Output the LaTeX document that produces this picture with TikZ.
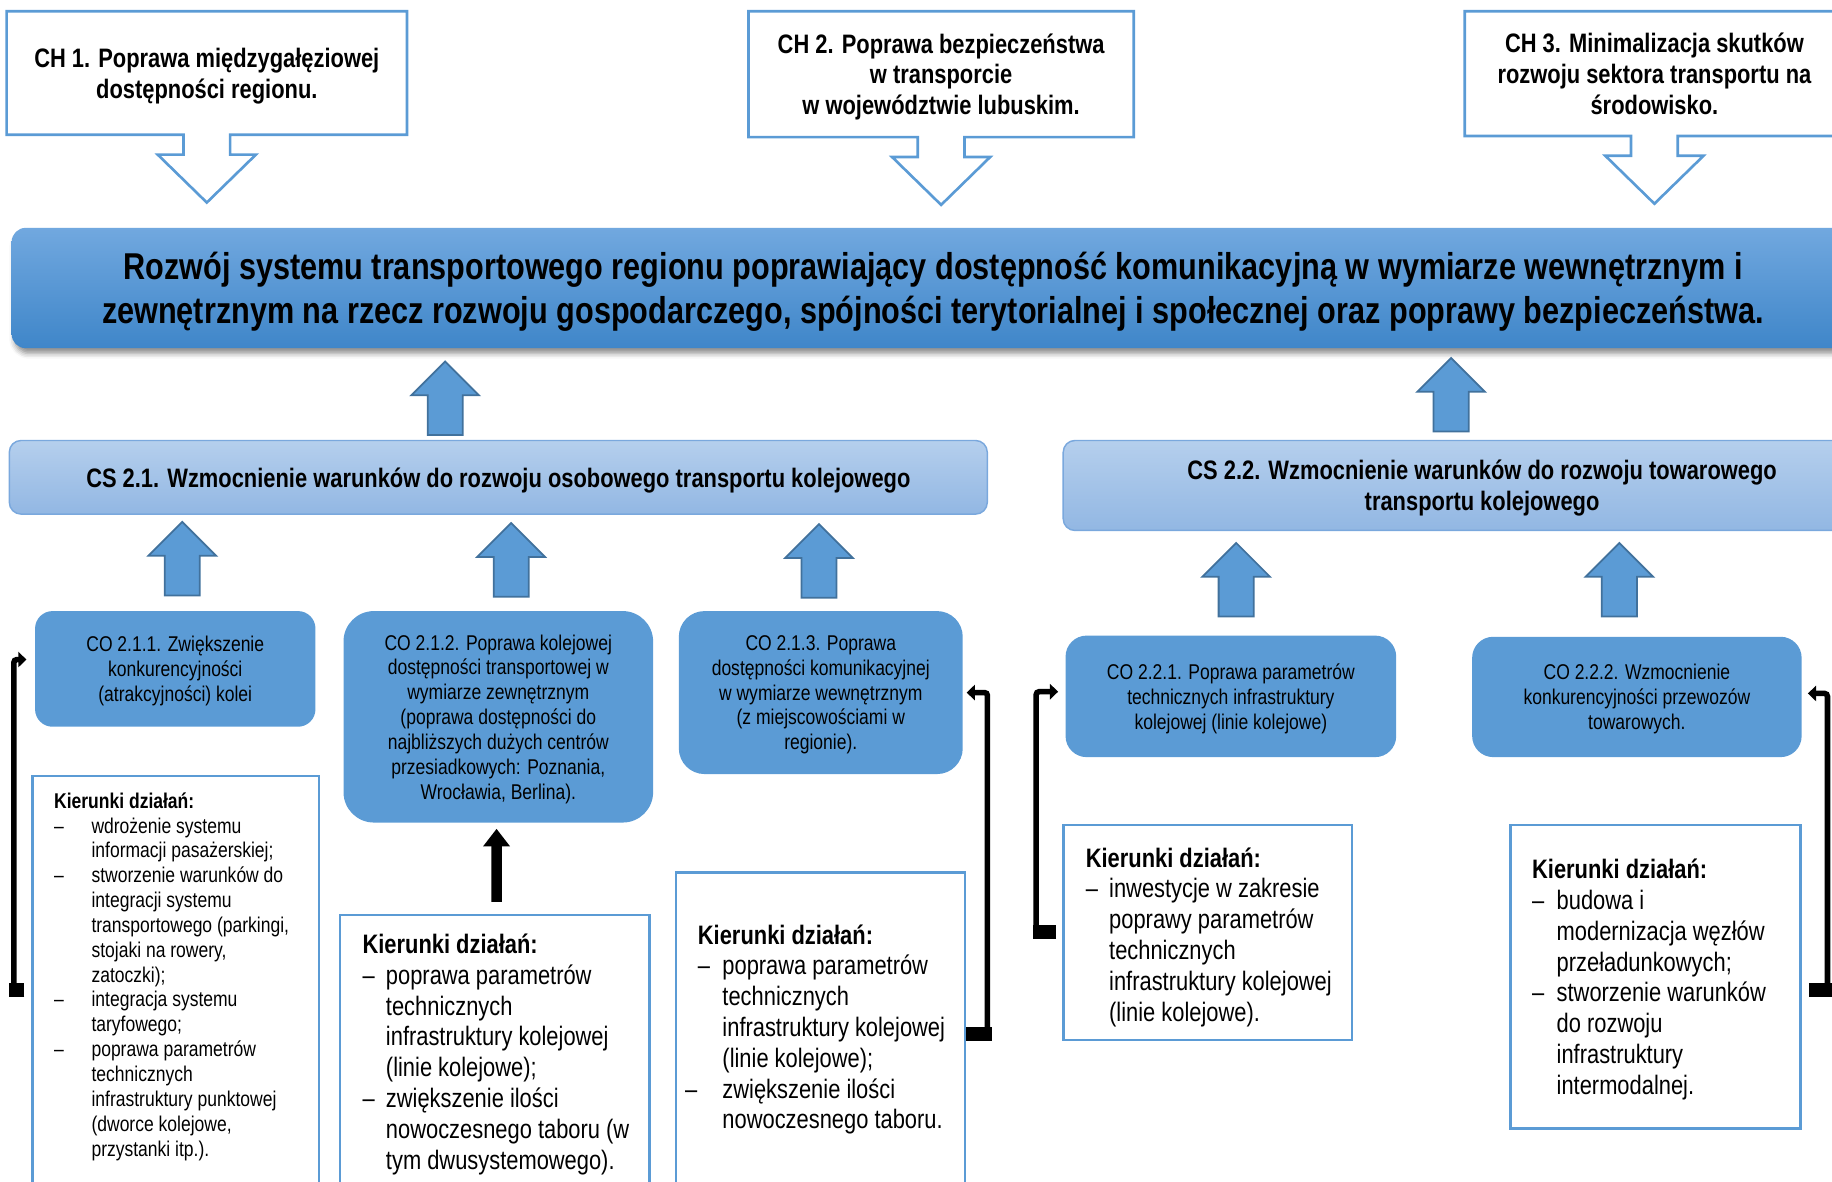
\documentclass[tikz,border=0pt]{standalone}
\usepackage{fontspec}
\setmainfont{Liberation Sans}[FakeStretch=0.82]
\usetikzlibrary{calc,arrows.meta,shadows.blur}

\definecolor{boxblue}{RGB}{91,155,213}
\definecolor{edgeblue}{RGB}{65,113,156}
\definecolor{bannertop}{RGB}{113,168,223}
\definecolor{bannerbot}{RGB}{63,134,201}
\definecolor{cstop}{RGB}{181,207,237}
\definecolor{csbot}{RGB}{146,183,227}
\definecolor{csedge}{RGB}{122,168,221}

% dash and hanging indent in the "Kierunki" lists
\newcommand{\kdash}[1]{\makebox[#1][l]{–}}
\newcommand{\kind}[1]{\hspace*{#1}}
% outline of a goal box with its down arrow
\newcommand{\chpointer}[1]{%
  \draw[chline] (#1.south west) -- (#1.north west) -- (#1.north east) -- (#1.south east)
    -- ($(#1.south)+(20,0)$) -- ++(0,17) -- ++(22,0) -- ($(#1.south)+(0,58)$)
    -- ($(#1.south)+(-42,17)$) -- ++(22,0) -- ++(0,-17) -- cycle;}

\tikzset{
  boxsize/.style 2 args={minimum width=#1*0.2mm, minimum height=#2*0.2mm},
  chtext/.style={align=center, inner sep=0pt, text depth=-0.6pt, font=\fontsize{13}{15}\selectfont\bfseries},
  chline/.style={draw=boxblue, line width=0.45mm},
  banner/.style={rounded corners=2.4mm, top color=bannertop, bottom color=bannerbot,
    align=center, inner sep=0pt, text depth=-0.4pt, font=\fontsize{18.2}{21.6}\selectfont\bfseries,
    blur shadow={shadow xshift=0.5mm, shadow yshift=-0.9mm, shadow blur radius=0.9mm, shadow opacity=45}},
  csbox/.style={rounded corners=2mm, top color=cstop, bottom color=csbot, draw=csedge,
    line width=0.25mm, align=center, inner sep=0pt, text depth=-1.6pt, font=\fontsize{13}{15}\selectfont\bfseries},
  cobox/.style={fill=boxblue, align=center, inner sep=0pt, text depth=-1.2pt, font=\fontsize{10.4}{12.1}\selectfont},
  kbox/.style={draw=boxblue, line width=0.45mm, fill=white},
  ktext/.style={anchor=north west, align=left, inner sep=0pt, font=\fontsize{13}{15}\selectfont},
  conn/.style={line width=0.95mm, -{Triangle[length=1.4mm, width=2.6mm]}, rounded corners=0.5mm},
  stub/.style={line width=2.4mm},
  blackup/.style={line width=1.8mm, -{Triangle[length=3mm, width=4.4mm]}},
  arrowfill/.style={fill=boxblue, draw=edgeblue, line width=0.3mm},
  blockup/.pic={\draw[arrowfill] (-15,0) -- (-15,-34) -- (-29,-34) -- (0,-63) -- (29,-34) -- (15,-34) -- (15,0) -- cycle;}
}

\begin{document}
\begin{tikzpicture}[x=0.2mm, y=-0.2mm]
  \useasboundingbox (0,0) rectangle (1568,1011);
  \clip (0,0) rectangle (1568,1011);

  % Goals (CH)
  \node[chtext, boxsize={342}{105}] (ch1) at (177,62.5) {CH 1. Poprawa międzygałęziowej\\dostępności regionu.};
  \node[chtext, boxsize={329}{107}] (ch2) at (805.5,63.5) {CH 2. Poprawa bezpieczeństwa\\w transporcie\\w województwie lubuskim.};
  \node[chtext, boxsize={324}{106}] (ch3) at (1416,63) {CH 3. Minimalizacja skutków\\rozwoju sektora transportu na\\środowisko.};
  \chpointer{ch1}
  \chpointer{ch2}
  \chpointer{ch3}

  % Main goal
  \node[banner, boxsize={1577}{103}] (goal) at (798.5,246.5)
    {Rozwój systemu transportowego regionu poprawiający dostępność komunikacyjną w wymiarze wewnętrznym i\\
     zewnętrznym na rzecz rozwoju gospodarczego, spójności terytorialnej i społecznej oraz poprawy bezpieczeństwa.};

  % Strategic goals (CS)
  \node[csbox, boxsize={837}{63}] (cs21) at (426.5,408.5) {CS 2.1. Wzmocnienie warunków do rozwoju osobowego transportu kolejowego};
  \node[csbox, boxsize={717}{77}] (cs22) at (1268.5,415.5) {CS 2.2. Wzmocnienie warunków do rozwoju towarowego\\transportu kolejowego};

  % Operational goals (CO)
  \node[cobox, rounded corners=3mm, boxsize={240}{99}] (co211) at (150,572.5)
    {CO 2.1.1. Zwiększenie\\konkurencyjności\\(atrakcyjności) kolei};
  \node[cobox, rounded corners=5.2mm, boxsize={265}{181}] (co212) at (426.5,613.5)
    {CO 2.1.2. Poprawa kolejowej\\dostępności transportowej w\\wymiarze zewnętrznym\\(poprawa dostępności do\\najbliższych dużych centrów\\przesiadkowych: Poznania,\\Wrocławia, Berlina).};
  \node[cobox, rounded corners=4.4mm, boxsize={243}{139.5}] (co213) at (702.5,592.75)
    {CO 2.1.3. Poprawa\\dostępności komunikacyjnej\\w wymiarze wewnętrznym\\(z miejscowościami w\\regionie).};
  \node[cobox, rounded corners=3.6mm, boxsize={283}{104}] (co221) at (1053.5,596)
    {CO 2.2.1. Poprawa parametrów\\technicznych infrastruktury\\kolejowej (linie kolejowe)};
  \node[cobox, rounded corners=3.6mm, boxsize={282}{103}] (co222) at (1401,596.5)
    {CO 2.2.2. Wzmocnienie\\konkurencyjności przewozów\\towarowych.};

  % Block arrows up
  \pic at ($(cs21.north)+(-45.5,-4)$) {blockup};
  \pic at ($(cs22.north)+(-26.5,-7)$) {blockup};
  \pic at ($(co211.north)+(6,-13)$) {blockup};
  \pic at ($(co212.north)+(11,-12)$) {blockup};
  \pic at ($(co213.north)+(-1.5,-11)$) {blockup};
  \pic at ($(co221.north)+(4.5,-16)$) {blockup};
  \pic at ($(co222.north)+(-15,-17)$) {blockup};

  % Kierunki dzialan
  \node[kbox, boxsize={245}{366}] (k1) at (150.5,847) {};
  \node[kbox, boxsize={265}{247}] (k2) at (423.5,906.5) {};
  \node[kbox, boxsize={247.5}{276}] (k3) at (702.25,885) {};
  \node[kbox, boxsize={247}{184}] (k4) at (1033.5,798) {};
  \node[kbox, boxsize={248}{260}] (k5) at (1417,836) {};

  \node[ktext, font=\fontsize{10.4}{12.1}\selectfont] (k1t) at (46,678) {\textbf{Kierunki działań:}\\
    \kdash{6.4mm}wdrożenie systemu\\
    \kind{6.4mm}informacji pasażerskiej;\\
    \kdash{6.4mm}stworzenie warunków do\\
    \kind{6.4mm}integracji systemu\\
    \kind{6.4mm}transportowego (parkingi,\\
    \kind{6.4mm}stojaki na rowery,\\
    \kind{6.4mm}zatoczki);\\
    \kdash{6.4mm}integracja systemu\\
    \kind{6.4mm}taryfowego;\\
    \kdash{6.4mm}poprawa parametrów\\
    \kind{6.4mm}technicznych\\
    \kind{6.4mm}infrastruktury punktowej\\
    \kind{6.4mm}(dworce kolejowe,\\
    \kind{6.4mm}przystanki itp.).};
  \node[ktext] (k2t) at (310,799) {\textbf{Kierunki działań:}\\
    \kdash{4mm}poprawa parametrów\\
    \kind{4mm}technicznych\\
    \kind{4mm}infrastruktury kolejowej\\
    \kind{4mm}(linie kolejowe);\\
    \kdash{4mm}zwiększenie ilości\\
    \kind{4mm}nowoczesnego taboru (w\\
    \kind{4mm}tym dwusystemowego).};
  \node[ktext] (k3t) at (597,791) {\textbf{Kierunki działań:}\\
    \kdash{4.2mm}poprawa parametrów\\
    \kind{4.2mm}technicznych\\
    \kind{4.2mm}infrastruktury kolejowej\\
    \kind{4.2mm}(linie kolejowe);\\
    \kind{-2.2mm}\kdash{6.4mm}zwiększenie ilości\\
    \kind{4.2mm}nowoczesnego taboru.};
  \node[ktext] (k4t) at (929,725) {\textbf{Kierunki działań:}\\
    \kdash{4mm}inwestycje w zakresie\\
    \kind{4mm}poprawy parametrów\\
    \kind{4mm}technicznych\\
    \kind{4mm}infrastruktury kolejowej\\
    \kind{4mm}(linie kolejowe).};
  \node[ktext] (k5t) at (1311,735) {\textbf{Kierunki działań:}\\
    \kdash{4.2mm}budowa i\\
    \kind{4.2mm}modernizacja węzłów\\
    \kind{4.2mm}przeładunkowych;\\
    \kdash{4.2mm}stworzenie warunków\\
    \kind{4.2mm}do rozwoju\\
    \kind{4.2mm}infrastruktury\\
    \kind{4.2mm}intermodalnej.};

  % Black connectors
  \draw[stub] ($(k1.west)+(-6,0)$) -- ($(k1.west)+(-19,0)$);
  \draw[conn] ($(k1.west)+(-15,0)$) |- ($(co211.west)+(-7,-8)$);

  \draw[blackup] ($(k2.north)+(1.5,-10)$) -- ($(co212.south)+(-1.5,5)$);

  \draw[stub] (k3.east) -- ($(k3.east)+(22,0)$);
  \draw[conn] ($(k3.east)+(18,0)$) |- ($(co213.east)+(3,0)$);

  \draw[stub] ($(k4.west)+(-5,0)$) -- ($(k4.west)+(-25,0)$);
  \draw[conn] ($(k4.west)+(-22,0)$) |- ($(co221.west)+(-6,-4)$);

  \draw[stub] ($(k5.east)+(6,11)$) -- ($(k5.east)+(30,11)$);
  \draw[conn] ($(k5.east)+(22,11)$) |- ($(co222.east)+(5,-3)$);

\end{tikzpicture}
\end{document}
